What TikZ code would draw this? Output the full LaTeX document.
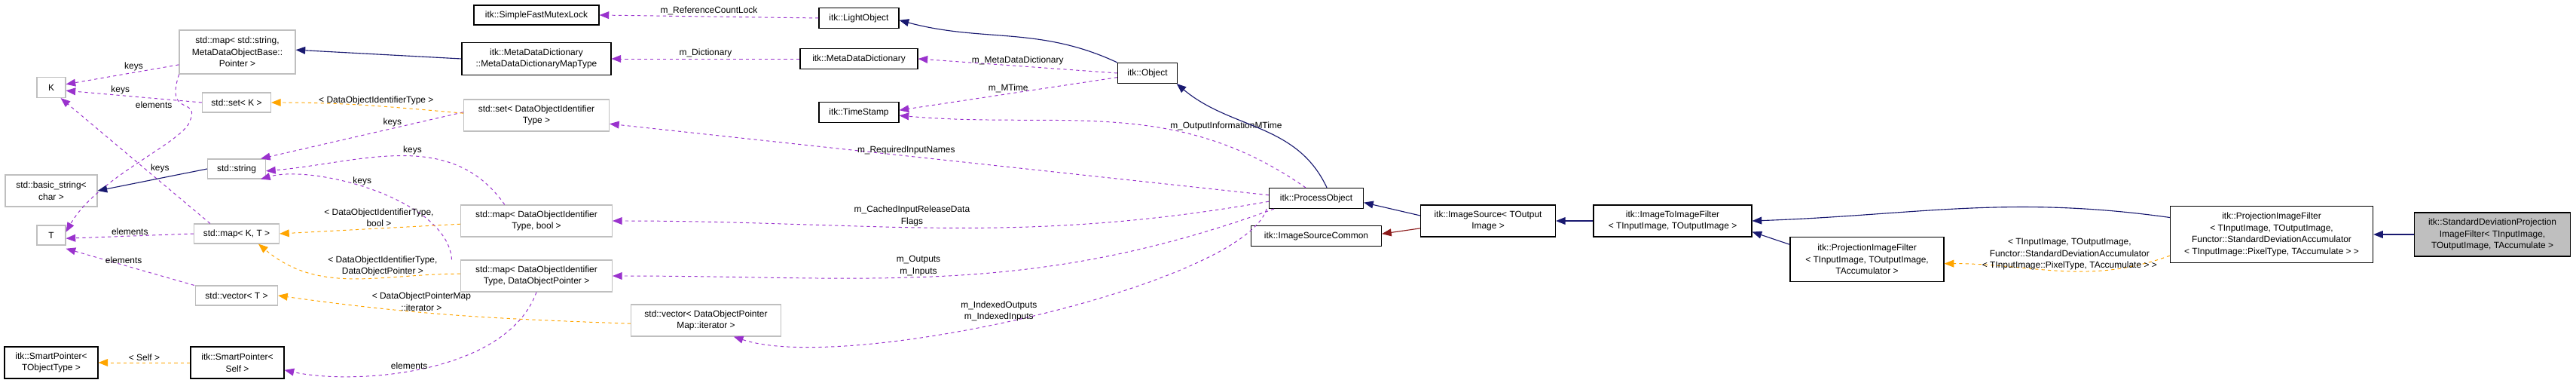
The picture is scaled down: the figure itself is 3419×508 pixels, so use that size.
\documentclass[tikz,border=0pt]{standalone}
\usepackage{fontspec}
\setmainfont{Liberation Sans}
\usetikzlibrary{arrows.meta}
\definecolor{pur}{HTML}{9A32CD}
\definecolor{org}{HTML}{FFA500}
\definecolor{nav}{HTML}{191970}
\definecolor{drd}{HTML}{8B1A1A}
\definecolor{gbd}{HTML}{BFBFBF}
\begin{document}
\begin{tikzpicture}[x=0.25mm,y=-0.25mm,font=\fontsize{8.5}{11}\selectfont,
 box/.style={draw,rectangle,inner sep=0pt,align=center,line width=0.8pt},
 sz/.style 2 args={minimum width=#1*0.25mm,minimum height=#2*0.25mm},
 itk/.style={box,draw=black},
 std/.style={box,draw=gbd},
 use/.style={draw=pur,dashed,line width=0.7pt,-{Triangle[length=9pt,width=7pt]}},
 tpl/.style={draw=org,dashed,line width=0.7pt,-{Triangle[length=9pt,width=7pt]}},
 inh/.style={draw=nav,line width=0.8pt,-{Triangle[length=9pt,width=7pt]}},
 prv/.style={draw=drd,line width=0.8pt,-{Triangle[length=9pt,width=7pt]}},
 lbl/.style={align=center,inner sep=1pt}]
\useasboundingbox (0,0) rectangle (3419,508);
% nodes
\node[itk,sz={166}{26}] (sfm) at (712,20) {itk::SimpleFastMutexLock};
\node[std,sz={154}{58}] (map1) at (315,69) {std::map\textless{} std::string,\\MetaDataObjectBase::\\Pointer \textgreater};
\node[itk,sz={198}{43}] (mt) at (712,78) {itk::MetaDataDictionary\\::MetaDataDictionaryMapType};
\node[std,sz={38}{27}] (K) at (68,116) {K};
\node[std,sz={91}{26}] (setK) at (314,136) {std::set\textless{} K \textgreater};
\node[std,sz={193}{42}] (set2) at (712,153) {std::set\textless{} DataObjectIdentifier\\Type \textgreater};
\node[std,sz={77}{26}] (str) at (314,224) {std::string};
\node[std,sz={122}{42}] (bs) at (68,253) {std::basic\_string\textless\\char \textgreater};
\node[std,sz={38}{26}] (T) at (68,312) {T};
\node[std,sz={113}{26}] (mapKT) at (314,310) {std::map\textless{} K, T \textgreater};
\node[std,sz={201}{42}] (mapb) at (712,293) {std::map\textless{} DataObjectIdentifier\\Type, bool \textgreater};
\node[std,sz={201}{42}] (mapd) at (712,366) {std::map\textless{} DataObjectIdentifier\\Type, DataObjectPointer \textgreater};
\node[std,sz={109}{26}] (vecT) at (314,392) {std::vector\textless{} T \textgreater};
\node[std,sz={199}{42}] (vec2) at (937,425) {std::vector\textless{} DataObjectPointer\\Map::iterator \textgreater};
\node[itk,sz={124}{42}] (spT) at (68,481) {itk::SmartPointer\textless\\TObjectType \textgreater};
\node[itk,sz={124}{42}] (spS) at (315,481) {itk::SmartPointer\textless\\Self \textgreater};
\node[itk,sz={106}{27}] (lo) at (1140,24) {itk::LightObject};
\node[itk,sz={156}{27}] (mdd) at (1140,78) {itk::MetaDataDictionary};
\node[itk,sz={79}{27}] (obj) at (1523,97) {itk::Object};
\node[itk,sz={106}{27}] (ts) at (1140,149) {itk::TimeStamp};
\node[itk,sz={125}{27}] (po) at (1747,263) {itk::ProcessObject};
\node[itk,sz={173}{27}] (isc) at (1747,313) {itk::ImageSourceCommon};
\node[itk,sz={179}{42}] (is) at (1975,293) {itk::ImageSource\textless{} TOutput\\Image \textgreater};
\node[itk,sz={210}{42}] (itif) at (2220,293) {itk::ImageToImageFilter\\\textless{} TInputImage, TOutputImage \textgreater};
\node[itk,sz={204}{59}] (pf1) at (2478,344) {itk::ProjectionImageFilter\\\textless{} TInputImage, TOutputImage,\\TAccumulator \textgreater};
\node[itk,sz={269}{75}] (pf2) at (3015,311) {itk::ProjectionImageFilter\\\textless{} TInputImage, TOutputImage,\\Functor::StandardDeviationAccumulator\\\textless{} TInputImage::PixelType, TAccumulate \textgreater{} \textgreater};
\node[itk,fill=gbd,sz={207}{58}] (sd) at (3308,311) {itk::StandardDeviationProjection\\ImageFilter\textless{} TInputImage,\\TOutputImage, TAccumulate \textgreater};
% usage edges
\draw[use] (lo.west) -- node[lbl,above,pos=0.5]{m\_ReferenceCountLock} (sfm.east);
\draw[use] (mdd.west) -- node[lbl,above]{m\_Dictionary} (mt.east);
\draw[use] (obj.west) -- node[lbl,above]{m\_MetaDataDictionary} (mdd.east);
\draw[use] ([yshift=-4]obj.west) -- node[lbl,above]{m\_MTime} ([yshift=2]ts.east);
\draw[use] ([xshift=-10]po.north) to[out=145,in=-5] node[lbl,pos=0.35,above right=-2pt]{m\_OutputInformationMTime} ([yshift=-3]ts.east);
\draw[use] ([yshift=3]po.west) -- node[lbl,above,pos=0.55]{m\_RequiredInputNames} ([yshift=-8]set2.east);
\draw[use] ([yshift=-3]po.west) to[out=190,in=0] node[lbl,above,pos=0.55]{m\_CachedInputReleaseData\\Flags} (mapb.east);
\draw[use] ([xshift=5]po.south west) to[out=200,in=0] node[lbl,above,pos=0.55]{m\_Outputs\\m\_Inputs} (mapd.east);
\draw[use] ([xshift=-2]po.south west) .. controls +(-30,100) and +(150,50) .. node[lbl,above,pos=0.55]{m\_IndexedOutputs\\m\_IndexedInputs} ([xshift=-45]vec2.south east);
\draw[use] ([yshift=-12]map1.west) -- node[lbl,above,pos=0.4]{keys} ([yshift=3]K.east);
\draw[use] (setK.west) -- node[lbl,above,pos=0.6]{keys} ([yshift=-3]K.east);
\draw[use] ([xshift=-25]mapKT.north) -- node[lbl,pos=0.4,above right=-1pt]{keys} ([xshift=-5]K.south east);
\draw[use] ([xshift=-55]map1.south) .. controls +(-20,60) and +(20,-40) .. (250,165) .. controls +(-20,30) and +(40,-70) .. node[lbl,pos=0.0,above left=14pt]{elements} ([yshift=3]T.east);
\draw[use] (mapKT.west) -- node[lbl,above]{elements} ([yshift=-3]T.east);
\draw[use] ([xshift=-40]vecT.north) -- node[lbl,above,pos=0.55]{elements} ([yshift=-3]T.south east);
\draw[use] ([yshift=3]set2.west) -- node[lbl,above,pos=0.35]{keys} ([xshift=-5]str.north east);
\draw[use] ([xshift=-30]mapb.north) to[out=125,in=5] node[lbl,above,pos=0.45]{keys} ([yshift=-2]str.east);
\draw[use] ([xshift=-80]mapd.north) .. controls +(-5,-80) and +(70,-20) .. node[lbl,above,pos=0.55]{keys} ([xshift=-5]str.south east);
\draw[use] (mapd.south) .. controls +(-40,110) and +(90,20) .. node[lbl,above,pos=0.55]{elements} ([yshift=-7]spS.east);
% template edges
\draw[tpl] ([yshift=2]set2.west) to[out=175,in=0] node[lbl,above,pos=0.45]{\textless{} DataObjectIdentifierType \textgreater} (setK.east);
\draw[tpl] ([yshift=-3]mapb.west) -- node[lbl,above,pos=0.45]{\textless{} DataObjectIdentifierType,\\bool \textgreater} (mapKT.east);
\draw[tpl] ([yshift=2]mapd.west) to[out=180,in=-40] node[lbl,above,pos=0.35]{\textless{} DataObjectIdentifierType,\\DataObjectPointer \textgreater} ([xshift=-20]mapKT.south east);
\draw[tpl] ([yshift=-3]vec2.west) to[out=178,in=-8] node[lbl,above,pos=0.6]{\textless{} DataObjectPointerMap\\::iterator \textgreater} (vecT.east);
\draw[tpl] (spS.west) -- node[lbl,above]{\textless{} Self \textgreater} (spT.east);
\draw[tpl] ([yshift=-20]pf2.west) to[out=200,in=0] node[lbl,above,pos=0.45]{\textless{} TInputImage, TOutputImage,\\Functor::StandardDeviationAccumulator\\\textless{} TInputImage::PixelType, TAccumulate \textgreater{} \textgreater} ([yshift=-4]pf1.east);
% inheritance
\draw[inh] (mt.west) -- ([yshift=2]map1.east);
\draw[inh] (str.west) -- (bs.east);
\draw[inh] (obj.north west) to[out=155,in=-15] ([yshift=-2]lo.east);
\draw[inh] ([xshift=10]po.north) to[out=115,in=-40] ([xshift=-1]obj.south east);
\draw[inh] ([yshift=5]is.west) -- ([yshift=-4]po.east);
\draw[inh] (itif.west) -- (is.east);
\draw[inh] ([yshift=14]pf1.west) -- ([yshift=5]itif.south east);
\draw[inh] ([yshift=16]pf2.west) to[out=172,in=2] (itif.east);
\draw[inh] (sd.west) -- (pf2.east);
\draw[prv] ([yshift=-7]is.west) -- ([yshift=2]isc.east);
\end{tikzpicture}
\end{document}
